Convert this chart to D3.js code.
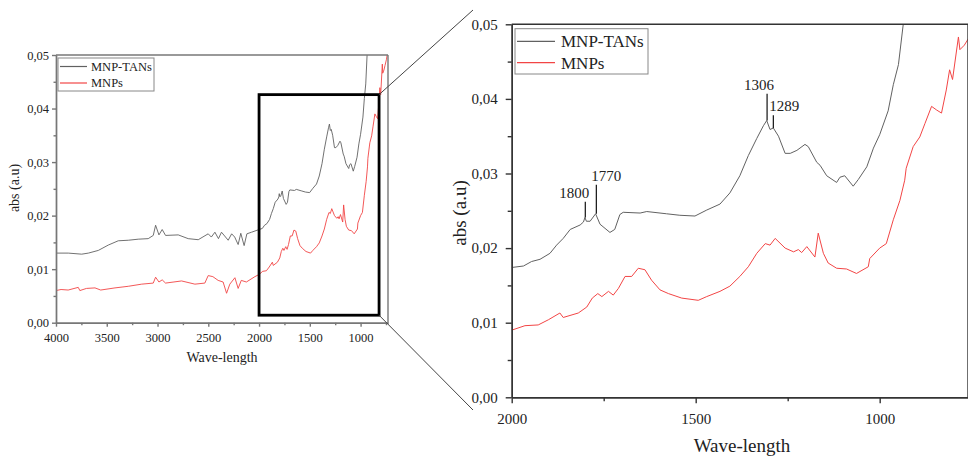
<!DOCTYPE html>
<html><head><meta charset="utf-8">
<script src="https://cdn.jsdelivr.net/npm/d3@7/dist/d3.min.js"></script>
<style>
html,body{margin:0;padding:0;background:#fff;}
svg{display:block;}
svg text{font-family:"Liberation Serif","Times New Roman",serif !important;}
</style></head>
<body>
<svg id="chart" width="968" height="458"></svg>
<script>
// ---- data ----
const seriesNames = ["MNP-TANs", "MNPs"];
const seriesColors = ["#616161", "#f24545"];
const tansWave = [4000,3879,3747,3681,3583,3485,3387,3288,3190,3092,3042,3019,2986,2954,2921,2796,2698,2599,2501,2470,2435,2400,2370,2304,2270,2240,2206,2180,2147,2120,2074,2000,
 1968,1946,1923,1896,1878,1860,1841,1814,1805,1801,1797,1787,1772,1760,1733,1720,1706,1697,1651,1633,1579,1543,1502,1470,1434,1407,1380,1357,1334,1316,1307,1298,1289,1275,1257,1243,1225,1203,1194,1171,1162,1144,1117,1108,1095,1072,1058,1035,1017,1000,977,963,949,936,900,850];
const tansAbs = [0.0130,0.0130,0.0128,0.0130,0.0135,0.0145,0.0153,0.0154,0.0156,0.0157,0.0163,0.0182,0.0164,0.0174,0.0163,0.0164,0.0157,0.0155,0.0166,0.0160,0.0169,0.0157,0.0169,0.0154,0.0166,0.0160,0.0146,0.0167,0.0144,0.0166,0.0169,0.0174,
 0.0176,0.0182,0.0185,0.0193,0.0204,0.0213,0.0225,0.0231,0.0235,0.0241,0.0236,0.0236,0.0246,0.0232,0.0221,0.0225,0.0245,0.0248,0.0247,0.0249,0.0246,0.0244,0.0243,0.0251,0.0259,0.0274,0.0297,0.0324,0.0347,0.0364,0.0371,0.0359,0.0361,0.0350,0.0327,0.0327,0.0331,0.0339,0.0336,0.0315,0.0311,0.0297,0.0288,0.0295,0.0297,0.0283,0.0292,0.0309,0.0334,0.0352,0.0384,0.0419,0.0446,0.0500,0.0600,0.0700];
const mnpWave = [4000,3950,3880,3781,3765,3700,3616,3560,3419,3288,3156,3042,3019,2986,2954,2921,2763,2632,2534,2501,2455,2403,2354,2320,2288,2238,2206,2175,2125,2041,2000,
 1964,1928,1900,1869,1860,1819,1796,1781,1766,1755,1737,1724,1710,1692,1674,1656,1638,1620,1597,1574,1538,1493,1470,1434,1407,1380,1357,1334,1311,1298,1284,1257,1234,1221,1212,1198,1176,1167,1153,1140,1117,1090,1063,1031,1027,1000,982,963,945,932,928,909,891,877,859,845,832,819,810,802,786,782,770,760,745,730];
const mnpAbs = [0.0060,0.0062,0.0061,0.0066,0.0060,0.0064,0.0065,0.0061,0.0065,0.0068,0.0072,0.0074,0.0085,0.0076,0.0080,0.0074,0.0078,0.0072,0.0074,0.0088,0.0086,0.0079,0.0076,0.0055,0.0072,0.0084,0.0064,0.0079,0.0076,0.0086,0.0090,
 0.0096,0.0097,0.0104,0.0113,0.0107,0.0113,0.0121,0.0133,0.0139,0.0135,0.0142,0.0137,0.0146,0.0162,0.0162,0.0173,0.0171,0.0157,0.0144,0.0139,0.0133,0.0130,0.0135,0.0142,0.0149,0.0162,0.0175,0.0193,0.0206,0.0204,0.0213,0.0200,0.0195,0.0198,0.0194,0.0202,0.0188,0.0220,0.0193,0.0180,0.0173,0.0172,0.0166,0.0175,0.0186,0.0200,0.0206,0.0238,0.0264,0.0291,0.0307,0.0336,0.0349,0.0367,0.0390,0.0385,0.0381,0.0412,0.0439,0.0426,0.0483,0.0466,0.0472,0.0480,0.0492,0.0510];
const yTicks = [0, 0.01, 0.02, 0.03, 0.04, 0.05];
const xTicksLeft = [4000, 3500, 3000, 2500, 2000, 1500, 1000];
const xTicksRight = [2000, 1500, 1000];
const peakLabels = ["1800", "1770", "1306", "1289"];
const peakWave = [1800, 1770, 1306, 1289];
const peakBase = [0.0241, 0.0246, 0.0371, 0.0361];
const peakTop = [0.0262, 0.0285, 0.0407, 0.0378];
const zoomWave = [2000, 818];
const zoomAbs = [0.0014, 0.0426];

const series = [
  {name: seriesNames[0], color: seriesColors[0], pts: tansWave.map((w,i)=>[w, tansAbs[i]])},
  {name: seriesNames[1], color: seriesColors[1], pts: mnpWave.map((w,i)=>[w, mnpAbs[i]])}
];
const fmt = v => d3.format(".2f")(v).replace(".", ",");

const svg = d3.select("#chart");

function panel(cfg) {
  const x = d3.scaleLinear().domain(cfg.xd).range(cfg.xr);
  const y = d3.scaleLinear().domain([0, 0.05]).range(cfg.yr);
  const g = svg.append("g");
  const clipId = "clip" + cfg.id;
  svg.append("defs").append("clipPath").attr("id", clipId)
    .append("rect").attr("x", cfg.xr[0]).attr("y", cfg.yr[1])
    .attr("width", cfg.xr[1]-cfg.xr[0]).attr("height", cfg.yr[0]-cfg.yr[1]);
  const line = d3.line().x(d=>x(d[0])).y(d=>y(d[1]));
  const lg = g.append("g").attr("clip-path", `url(#${clipId})`);
  series.forEach(s => {
    lg.append("path").datum(s.pts.filter(p => p[0] <= cfg.xd[0]+30))
      .attr("d", line).attr("fill", "none").attr("stroke", s.color)
      .attr("stroke-width", cfg.lw).attr("stroke-linejoin", "round");
  });
  // frame
  g.append("line").attr("x1", cfg.xr[0]).attr("x2", cfg.xr[1]).attr("y1", cfg.yr[1]).attr("y2", cfg.yr[1])
    .attr("stroke", cfg.axisColor).attr("stroke-width", cfg.aw);
  g.append("line").attr("x1", cfg.xr[1]).attr("x2", cfg.xr[1]).attr("y1", cfg.yr[0]).attr("y2", cfg.yr[1])
    .attr("stroke", cfg.axisColor).attr("stroke-width", cfg.aw);
  // y axis
  const ya = g.append("g").attr("transform", `translate(${cfg.xr[0]},0)`)
    .call(d3.axisLeft(y).tickValues(yTicks).tickFormat(fmt).tickSize(cfg.tick).tickPadding(cfg.ypad).tickSizeOuter(0));
  const yminor = g.append("g").attr("transform", `translate(${cfg.xr[0]},0)`)
    .call(d3.axisLeft(y).tickValues([0.005,0.015,0.025,0.035,0.045]).tickFormat("").tickSize(cfg.mtick).tickSizeOuter(0));
  // x axis
  const xa = g.append("g").attr("transform", `translate(0,${cfg.yr[0]})`)
    .call(d3.axisBottom(x).tickValues(cfg.xt).tickFormat(d3.format("d")).tickSize(cfg.tick).tickPadding(cfg.xpad).tickSizeOuter(0));
  const minorX = d3.range(cfg.xd[0]-250, cfg.xd[1], -500);
  const xminor = g.append("g").attr("transform", `translate(0,${cfg.yr[0]})`)
    .call(d3.axisBottom(x).tickValues(minorX).tickFormat("").tickSize(cfg.mtick).tickSizeOuter(0));
  [ya, yminor, xa, xminor].forEach(a => {
    a.attr("font-family", null);
    a.select(".domain").attr("stroke", cfg.axisColor).attr("stroke-width", cfg.aw);
    a.selectAll(".tick line").attr("stroke", cfg.axisColor).attr("stroke-width", cfg.aw);
    a.selectAll("text").attr("font-size", cfg.tfs)
      .attr("font-weight", cfg.tfw).attr("fill", "#222");
  });
  g.append("text").attr("transform", `translate(${cfg.ytx},${cfg.yty}) rotate(-90)`)
    .attr("text-anchor", "middle").attr("font-size", cfg.afs).attr("fill", "#222").text("abs (a.u)");
  g.append("text").attr("x", cfg.xtx).attr("y", cfg.xty)
    .attr("text-anchor", "middle").attr("font-size", cfg.afs).attr("fill", "#222").text("Wave-length");
  // legend
  const L = cfg.leg;
  g.append("rect").attr("x", L.x).attr("y", L.y).attr("width", L.w).attr("height", L.h)
    .attr("fill", "#fff").attr("stroke", "#888").attr("stroke-width", 1);
  series.forEach((s, i) => {
    const ly = L.y + L.r0 + i * L.dy;
    g.append("line").attr("x1", L.x + 2).attr("x2", L.x + L.lw).attr("y1", ly).attr("y2", ly)
      .attr("stroke", s.color).attr("stroke-width", 1.2);
    g.append("text").attr("x", L.x + L.tx).attr("y", ly).attr("dy", "0.35em")
      .attr("font-size", L.fs).attr("font-weight", L.fw).attr("fill", "#222").text(s.name);
  });
  return {x, y, g};
}

const left = panel({id: "L", xd: [4000, 730], xr: [56, 388], yr: [322.7, 55], lw: 0.9,
  axisColor: "#777", aw: 1.4, tick: 4, mtick: 2.5, ypad: 3, xpad: 6, tfs: 12.5, tfw: "normal",
  xt: xTicksLeft, afs: 14, ytx: 19, yty: 188, xtx: 222, xty: 362,
  leg: {x: 58, y: 58, w: 96, h: 33, r0: 8.5, dy: 16.5, lw: 29, tx: 33, fs: 12.5, fw: "normal"}});

const right = panel({id: "R", xd: [2000, 760], xr: [511.7, 968], yr: [397.3, 24.3], lw: 1,
  axisColor: "#333", aw: 1.4, tick: 6, mtick: 4, ypad: 8, xpad: 10, tfs: 15, tfw: "normal",
  xt: xTicksRight, afs: 19, ytx: 466, yty: 213, xtx: 742, xty: 452,
  leg: {x: 515, y: 28.7, w: 133, h: 45.3, r0: 12.6, dy: 21.4, lw: 40, tx: 46, fs: 17, fw: "normal"}});

// zoom rectangle in left panel
const rx0 = left.x(zoomWave[0]), rx1 = left.x(zoomWave[1]);
const ry0 = left.y(zoomAbs[1]), ry1 = left.y(zoomAbs[0]);
svg.append("rect").attr("x", rx0).attr("y", ry0).attr("width", rx1 - rx0).attr("height", ry1 - ry0)
  .attr("fill", "none").attr("stroke", "#000").attr("stroke-width", 2.8);
// connector lines
svg.append("line").attr("x1", rx1).attr("y1", ry0).attr("x2", 473).attr("y2", 10)
  .attr("stroke", "#444").attr("stroke-width", 1);
svg.append("line").attr("x1", rx1).attr("y1", ry1).attr("x2", 473).attr("y2", 410)
  .attr("stroke", "#444").attr("stroke-width", 1);

// peak annotations in right panel
const labelDx = [-11, 10, -8, 11];
peakLabels.forEach((t, i) => {
  const px = right.x(peakWave[i]);
  svg.append("line").attr("x1", px).attr("x2", px)
    .attr("y1", right.y(peakTop[i])).attr("y2", right.y(peakBase[i]))
    .attr("stroke", "#111").attr("stroke-width", 1.2);
  svg.append("text").attr("x", px + labelDx[i]).attr("y", right.y(peakTop[i]) - 4)
    .attr("text-anchor", "middle").attr("font-size", 15).attr("fill", "#222").text(t);
});
</script>
</body></html>
